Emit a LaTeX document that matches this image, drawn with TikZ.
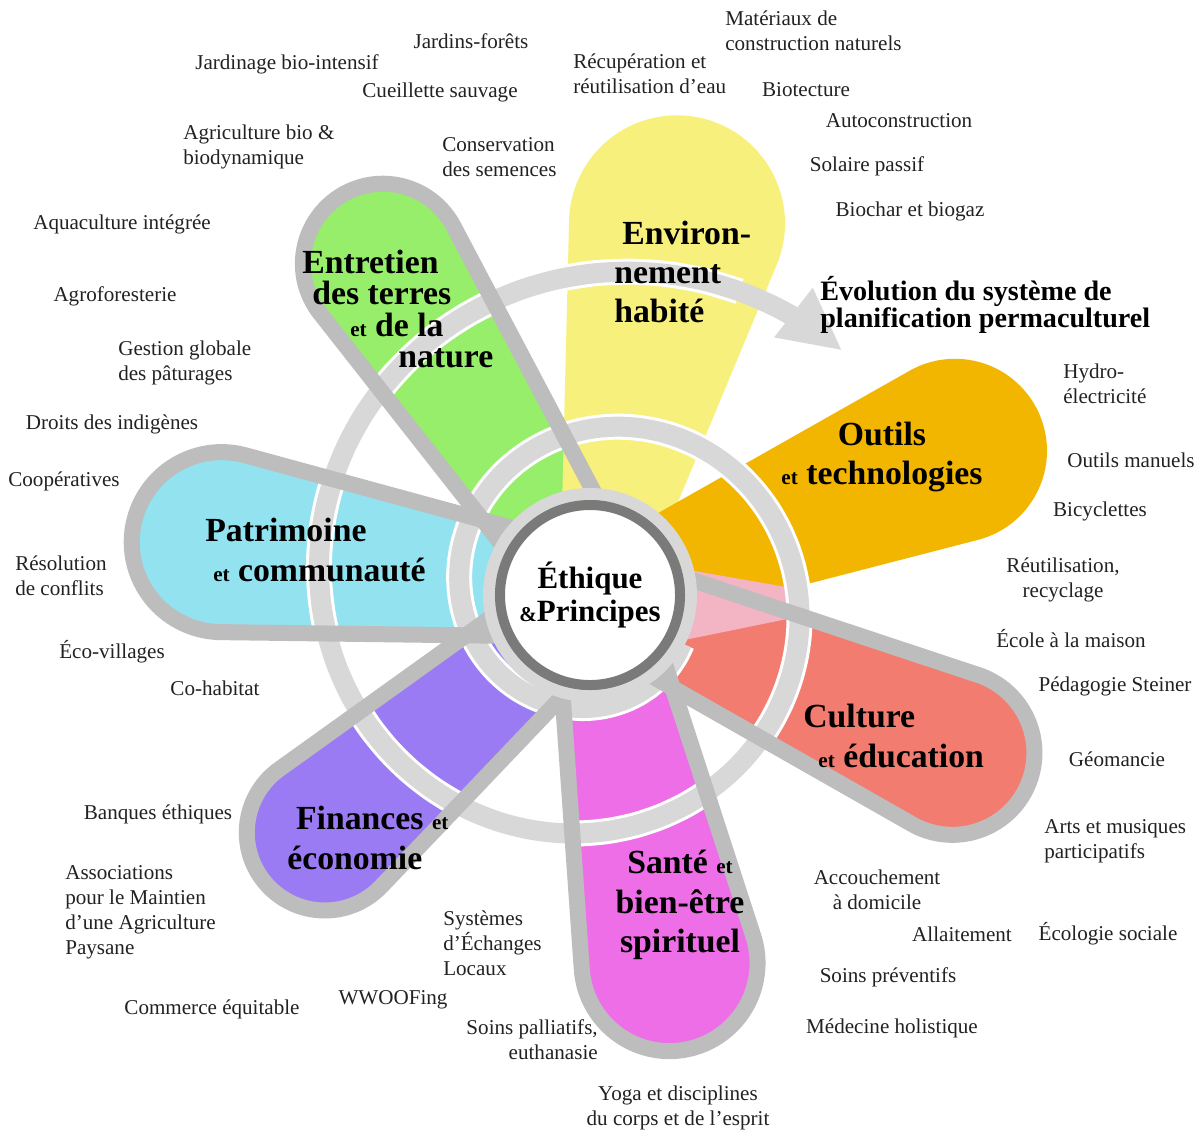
\documentclass[tikz,border=0pt]{standalone}
\usepackage{fontspec}
\setmainfont{Liberation Serif}
\usetikzlibrary{arrows.meta}
\definecolor{petyellow}{HTML}{F7F07C}
\definecolor{petorange}{HTML}{F2B600}
\definecolor{petred}{HTML}{F27C6F}
\definecolor{petpink}{HTML}{EE6EE8}
\definecolor{petpurple}{HTML}{9B7BF3}
\definecolor{petcyan}{HTML}{92E2F0}
\definecolor{petgreen}{HTML}{97EE6A}
\definecolor{petblush}{HTML}{F3B5C4}
\definecolor{petline}{HTML}{BDBDBD}
\definecolor{spiralgray}{HTML}{D8D8D8}
\definecolor{ringgray}{HTML}{7A7A7A}
\definecolor{inkgray}{HTML}{222222}

% small "et" inside the petal titles
\newcommand{\smallet}{{\fontsize{15}{15}\selectfont et}}
% one petal: angle, distance of the round end, its radius, style
\newcommand{\petal}[4]{%
  \pgfmathsetmacro{\petalbend}{asin((#3-50)/(#2-60))}%
  \path[#4, shift={(598,-595)}, rotate=#1]
    (60,-50) -- ({#2-#3*sin(\petalbend)},{-#3*cos(\petalbend)})
    arc[start angle={-90-\petalbend}, end angle={90+\petalbend}, radius=#3]
    -- (60,50) -- cycle;}

\begin{document}
\begin{tikzpicture}[x=0.025cm, y=0.025cm,
    topic/.style={font=\fontsize{15}{17.7}\selectfont, text=inkgray, inner sep=0pt},
    petaltitle/.style={font=\fontsize{24}{28}\selectfont\bfseries, inner sep=0pt},
    petaledge/.style={draw=petline, line width=0.4cm}]
  \useasboundingbox (0,0) rectangle (1201,-1133);
  \fill[white] (0,0) rectangle (1201,-1133);

  % Petal fills
  \petal{123}{395}{80}{fill=petgreen}
  \petal{78}{380}{108}{fill=petyellow}
  \petal{172}{380}{90}{fill=petcyan}
  \petal{-139}{362}{78}{fill=petpurple}
  \petal{-79}{375}{88}{fill=petpink}
  \petal{-24}{388}{82}{fill=petred}
  \petal{22}{385}{92}{fill=petorange}
  \fill[petblush] (660,-565) -- (792,-588) -- (792,-618) -- (660,-645) -- cycle;

  % Spiral arrow
  \draw[white, line width=0.65cm] plot[domain=-60:565, samples=100, smooth, variable=\t]
    ({598+(112+\t*(0.2654+0.000224*\t))*cos(270-\t)}, {-595+(112+\t*(0.2654+0.000224*\t))*sin(270-\t)});
  \draw[spiralgray, line width=0.5cm, -{Triangle[width=1.45cm,length=1.55cm]}] plot[domain=-60:585, samples=100, smooth, variable=\t]
    ({598+(112+\t*(0.2654+0.000224*\t))*cos(270-\t)}, {-595+(112+\t*(0.2654+0.000224*\t))*sin(270-\t)});

  % Petal outlines
  \petal{123}{395}{80}{petaledge}
  \petal{172}{380}{90}{petaledge}
  \petal{-139}{362}{78}{petaledge}
  \petal{-79}{375}{88}{petaledge}
  \petal{-24}{388}{82}{petaledge}

  % Centre
  \draw[spiralgray, line width=0.3cm] (590,-595) circle[radius=101];
  \node[circle, draw=ringgray, line width=0.25cm, fill=white, minimum size=4.5cm, inner sep=0pt,
        align=center, font=\fontsize{22}{23}\selectfont\bfseries] (ethique) at (590,-595)
        {Éthique\\{\fontsize{15}{15}\selectfont\&}Principes};

  % Petal titles
  \node[petaltitle, font=\fontsize{24}{22.5}\selectfont\bfseries, anchor=west, align=left] (terres) at (302,-309)
        {Entretien\\\hspace*{0.25cm}des terres\\\hspace*{1.2cm}\smallet{} de la\\\hspace*{2.4cm}nature};
  \node[petaltitle, anchor=west, align=left] (habite) at (614,-272) {\hspace*{0.2cm}Environ-\\nement\\habité};
  \node[petaltitle, align=center] (outils) at (882,-457) {Outils\\\smallet{} technologies};
  \node[petaltitle, anchor=west, align=left] (patrimoine) at (205,-550) {Patrimoine\\\hspace*{0.2cm}\smallet{} communauté};
  \node[petaltitle, anchor=west, align=left] (culture) at (803,-736) {Culture\\\hspace*{0.38cm}\smallet{} éducation};
  \node[petaltitle, anchor=west, align=left] (finances) at (287,-838) {\hspace*{0.22cm}Finances \smallet\\économie};
  \node[petaltitle, align=center] (sante) at (680,-905) {Santé \smallet\\bien-être\\spirituel};
  \node[font=\fontsize{20}{19.5}\selectfont\bfseries, inner sep=0pt, anchor=west, align=left] (evolution) at (820,-305)
        {Évolution du système de\\planification permaculturel};

  % Land and nature
  \node[topic] (jardinsforets) at (471,-41) {Jardins-forêts};
  \node[topic] (jardinage) at (287,-64) {Jardinage bio-intensif};
  \node[topic] (cueillette) at (440,-92) {Cueillette sauvage};
  \node[topic, anchor=west, align=left] (agriculture) at (183,-147) {Agriculture bio \&\\biodynamique};
  \node[topic, anchor=west, align=left] (semences) at (442,-157) {Conservation\\des semences};
  \node[topic] (aquaculture) at (122,-224) {Aquaculture intégrée};
  \node[topic] (agroforesterie) at (115,-296) {Agroforesterie};
  \node[topic, anchor=west, align=left] (paturages) at (118,-363) {Gestion globale\\des pâturages};

  % Community
  \node[topic] (indigenes) at (112,-424) {Droits des indigènes};
  \node[topic] (cooperatives) at (64,-481) {Coopératives};
  \node[topic, anchor=west, align=left] (conflits) at (15,-576) {Résolution\\de conflits};
  \node[topic] (ecovillages) at (112,-652) {Éco-villages};
  \node[topic] (cohabitat) at (215,-688) {Co-habitat};

  % Finance
  \node[topic] (banques) at (158,-814) {Banques éthiques};
  \node[topic, anchor=west, align=left] (amap) at (65,-912) {Associations\\pour le Maintien\\d'une Agriculture\\Paysane};
  \node[topic] (commerce) at (212,-1009) {Commerce équitable};
  \node[topic] (wwoofing) at (393,-1000) {WWOOFing};
  \node[topic, anchor=west, align=left] (sel) at (443,-943) {Systèmes\\d'Échanges\\Locaux};

  % Health
  \node[topic, anchor=east, align=right] (palliatifs) at (598,-1040) {Soins palliatifs,\\euthanasie};
  \node[topic, align=center] (yoga) at (678,-1108) {Yoga et disciplines\\du corps et de l'esprit};
  \node[topic, align=center] (accouchement) at (877,-890) {Accouchement\\à domicile};
  \node[topic] (allaitement) at (962,-934) {Allaitement};
  \node[topic] (preventifs) at (888,-977) {Soins préventifs};
  \node[topic] (holistique) at (892,-1028) {Médecine holistique};

  % Culture
  \node[topic, align=center] (recyclage) at (1063,-580) {Réutilisation,\\recyclage};
  \node[topic] (ecole) at (1071,-639) {École à la maison};
  \node[topic] (steiner) at (1115,-686) {Pédagogie Steiner};
  \node[topic] (geomancie) at (1117,-759) {Géomancie};
  \node[topic, anchor=west, align=left] (arts) at (1044,-841) {Arts et musiques\\participatifs};
  \node[topic] (ecologie) at (1108,-934) {Écologie sociale};

  % Tools
  \node[topic, anchor=west, align=left] (hydro) at (1063,-384) {Hydro-\\électricité};
  \node[topic] (manuels) at (1131,-460) {Outils manuels};
  \node[topic] (bicyclettes) at (1100,-511) {Bicyclettes};

  % Built environment
  \node[topic, anchor=west, align=left] (materiaux) at (725,-31) {Matériaux de\\construction naturels};
  \node[topic, anchor=west, align=left] (eau) at (573,-74) {Récupération et\\réutilisation d'eau};
  \node[topic] (biotecture) at (806,-90) {Biotecture};
  \node[topic] (autoconstruction) at (899,-121) {Autoconstruction};
  \node[topic] (solaire) at (867,-166) {Solaire passif};
  \node[topic] (biochar) at (910,-211) {Biochar et biogaz};
\end{tikzpicture}
\end{document}
